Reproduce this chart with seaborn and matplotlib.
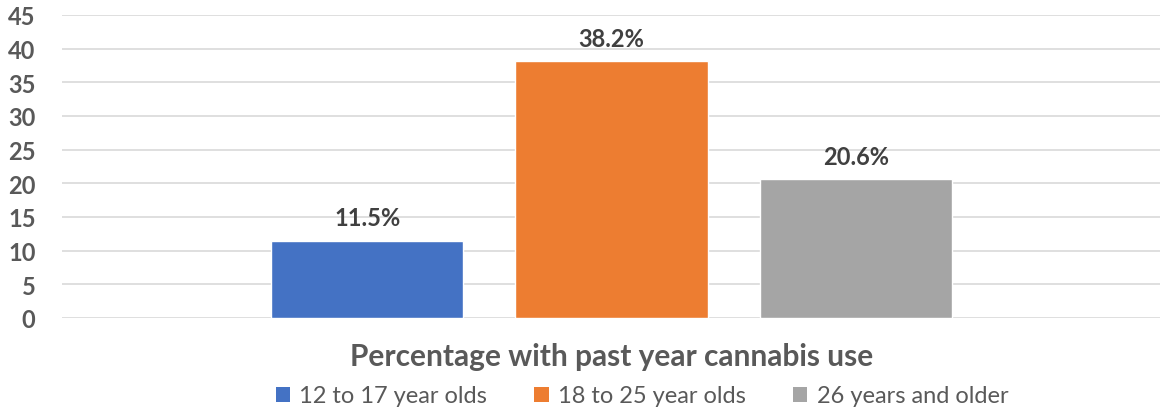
import matplotlib
matplotlib.use("Agg")
import matplotlib.pyplot as plt
from matplotlib.patches import Patch
import seaborn as sns
import pandas as pd

groups = ["12 to 17 year olds", "18 to 25 year olds", "26 years and older"]
values = [11.5, 38.2, 20.6]
category = "Percentage with past year cannabis use"
colors = ["#4472C4", "#ED7D31", "#A5A5A5"]
yticks = [0, 5, 10, 15, 20, 25, 30, 35, 40, 45]

df = pd.DataFrame({"category": [category] * len(groups), "group": groups, "value": values})

sns.set_theme(style="white")
plt.rcParams["font.family"] = ["Lato", "DejaVu Sans"]

fig = plt.figure(figsize=(11.6, 4.1), dpi=100)
ax = fig.add_axes([62 / 1160, 1 - 319 / 410, 1099 / 1160, 303 / 410])

sns.barplot(data=df, x="category", y="value", hue="group", palette=colors,
            width=0.8, gap=0.213, legend=False, ax=ax, saturation=1)

ax.set_xlim(-0.6, 0.6)
ax.set_ylim(0, 45)
ax.set_yticks(yticks)
ax.set_yticklabels([str(t) for t in yticks], fontsize=17, fontweight="bold", color="#595959")
ax.tick_params(axis="y", length=0, pad=19)
ax.set_xticks([])
ax.set_ylabel("")
ax.set_xlabel(category, fontsize=21.5, fontweight="bold", color="#595959", labelpad=17)
ax.yaxis.grid(True, color="#D9D9D9", linewidth=1.2)
ax.set_axisbelow(True)
for s in ax.spines.values():
    s.set_visible(False)

for cont in ax.containers:
    ax.bar_label(cont, fmt="%.1f%%", padding=8, fontsize=17, fontweight="bold", color="#404040")

handles = [Patch(facecolor=c, edgecolor="none") for c in colors]
fig.legend(handles, groups, loc="center", bbox_to_anchor=(642 / 1160, 1 - 397 / 410),
           ncol=3, frameon=False, fontsize=17, labelcolor="#595959",
           handlelength=0.6, handleheight=0.6, handletextpad=0.4, columnspacing=2.0)

fig.savefig("out.png", dpi=100)
